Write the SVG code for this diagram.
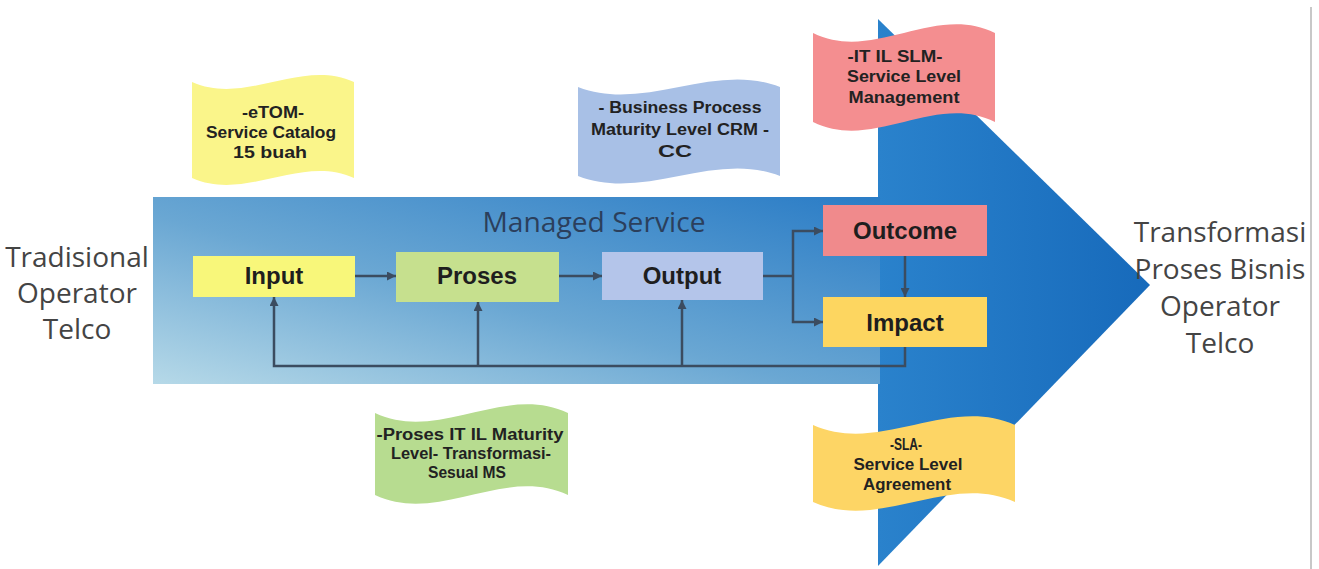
<svg xmlns="http://www.w3.org/2000/svg" width="1319" height="569" viewBox="0 0 1319 569">
<defs>
<linearGradient id="shaftGrad" x1="0" y1="1" x2="1" y2="0">
<stop offset="0" stop-color="#b6d9e8"/>
<stop offset="0.45" stop-color="#6aa7d3"/>
<stop offset="1" stop-color="#2a7cc6"/>
</linearGradient>
<linearGradient id="headGrad" x1="0" y1="0" x2="1" y2="0">
<stop offset="0" stop-color="#2a82cc"/>
<stop offset="1" stop-color="#176abb"/>
</linearGradient>
<marker id="arr" viewBox="0 0 10 10" refX="10" refY="5" markerWidth="9" markerHeight="9" markerUnits="userSpaceOnUse" orient="auto">
<path d="M0,0 L10,5 L0,10 z" fill="#3b4c60"/>
</marker>
</defs>
<style>
.lbl{font-family:"Liberation Sans",Arial,sans-serif;font-weight:bold;font-size:24px;fill:#1e1e1e;text-anchor:middle}
.flag{font-family:"Liberation Sans",Arial,sans-serif;font-weight:bold;font-size:16px;fill:#222;text-anchor:middle}
.side{font-family:"Open Sans","DejaVu Sans",sans-serif;font-size:28px;fill:#444;text-anchor:middle}
.title{font-family:"Open Sans","DejaVu Sans",sans-serif;font-size:28px;fill:#2b3f5c;text-anchor:middle}
.con{fill:none;stroke:#3b4c60;stroke-width:2.5}
</style>
<rect width="1319" height="569" fill="#ffffff"/>
<line x1="1311" y1="7" x2="1311" y2="569" stroke="#c8c8c8" stroke-width="2"/>

<g id="big-arrow">
<polygon points="878,19 1150,285 878,566" fill="url(#headGrad)"/>
<rect x="153" y="197" width="727" height="187" fill="url(#shaftGrad)"/>
</g>

<text id="managed-service" class="title" x="594" y="232" textLength="223" lengthAdjust="spacingAndGlyphs">Managed Service</text>

<g id="left-label">
<text class="side" x="77" y="267">Tradisional</text>
<text class="side" x="77" y="303">Operator</text>
<text class="side" x="77" y="339">Telco</text>
</g>
<g id="right-label">
<text class="side" x="1220" y="242">Transformasi</text>
<text class="side" x="1220" y="279">Proses Bisnis</text>
<text class="side" x="1220" y="316">Operator</text>
<text class="side" x="1220" y="353">Telco</text>
</g>

<g id="connectors">
<path class="con" d="M355,276 H396" marker-end="url(#arr)"/>
<path class="con" d="M559,276 H602" marker-end="url(#arr)"/>
<path class="con" d="M763,276 H793"/>
<path class="con" d="M793,276 V231 H823" marker-end="url(#arr)"/>
<path class="con" d="M793,276 V322 H823" marker-end="url(#arr)"/>
<path class="con" d="M905,256 V297" marker-end="url(#arr)"/>
<path class="con" d="M905,347 V366 H274 V297" marker-end="url(#arr)"/>
<path class="con" d="M478,366 V302" marker-end="url(#arr)"/>
<path class="con" d="M682,366 V300" marker-end="url(#arr)"/>
</g>

<g id="input"><rect x="193" y="256" width="162" height="41" fill="#f8f77a"/><text class="lbl" x="274" y="284">Input</text></g>
<g id="proses"><rect x="396" y="252" width="163" height="50" fill="#c6e08e"/><text class="lbl" x="477" y="284">Proses</text></g>
<g id="output"><rect x="602" y="252" width="161" height="48" fill="#b4c5ea"/><text class="lbl" x="682" y="284">Output</text></g>
<g id="outcome"><rect x="823" y="205" width="164" height="51" fill="#f08a8c"/><text class="lbl" x="905" y="239">Outcome</text></g>
<g id="impact"><rect x="823" y="297" width="164" height="50" fill="#fdd660"/><text class="lbl" x="905" y="331">Impact</text></g>

<g id="flag-etom">
<path d="M192,82 C246,106 300,58 354,82 L354,178 C300,154 246,202 192,178 Z" fill="#faf58a"/>
<text class="flag" x="273" y="118" textLength="62" lengthAdjust="spacingAndGlyphs">-eTOM-</text>
<text class="flag" x="271" y="138" textLength="130" lengthAdjust="spacingAndGlyphs">Service Catalog</text>
<text class="flag" x="270" y="158" textLength="74" lengthAdjust="spacingAndGlyphs">15 buah</text>
</g>

<g id="flag-bpm">
<path d="M578,87 C645,113 713,61 780,87 L780,176 C713,150 645,202 578,176 Z" fill="#a8c0e6"/>
<text class="flag" x="680" y="113" textLength="163" lengthAdjust="spacingAndGlyphs">- Business Process</text>
<text class="flag" x="680" y="135" textLength="178" lengthAdjust="spacingAndGlyphs">Maturity Level CRM -</text>
<text class="flag" x="675" y="157" textLength="34" lengthAdjust="spacingAndGlyphs">CC</text>
</g>

<g id="flag-itil">
<path d="M375,413 C439,443 504,383 568,413 L568,495 C504,465 439,525 375,495 Z" fill="#b7dc90"/>
<text class="flag" x="470" y="440" textLength="187" lengthAdjust="spacingAndGlyphs">-Proses IT IL Maturity</text>
<text class="flag" x="471" y="459" textLength="160" lengthAdjust="spacingAndGlyphs">Level- Transformasi-</text>
<text class="flag" x="467" y="478" textLength="78" lengthAdjust="spacingAndGlyphs">Sesual MS</text>
</g>

<g id="flag-slm">
<path d="M813,33 C874,63 934,3 995,33 L995,122 C934,92 874,152 813,122 Z" fill="#f48e90"/>
<text class="flag" x="895" y="62" textLength="95" lengthAdjust="spacingAndGlyphs">-IT IL SLM-</text>
<text class="flag" x="904" y="82" textLength="114" lengthAdjust="spacingAndGlyphs">Service Level</text>
<text class="flag" x="904" y="103" textLength="111" lengthAdjust="spacingAndGlyphs">Management</text>
</g>

<g id="flag-sla">
<path d="M813,425 C880,455 948,395 1015,425 L1015,502 C948,472 880,532 813,502 Z" fill="#fdd565"/>
<text class="flag" x="906" y="450" textLength="32" lengthAdjust="spacingAndGlyphs">-SLA-</text>
<text class="flag" x="908" y="470" textLength="109" lengthAdjust="spacingAndGlyphs">Service Level</text>
<text class="flag" x="907" y="490" textLength="88" lengthAdjust="spacingAndGlyphs">Agreement</text>
</g>
</svg>
